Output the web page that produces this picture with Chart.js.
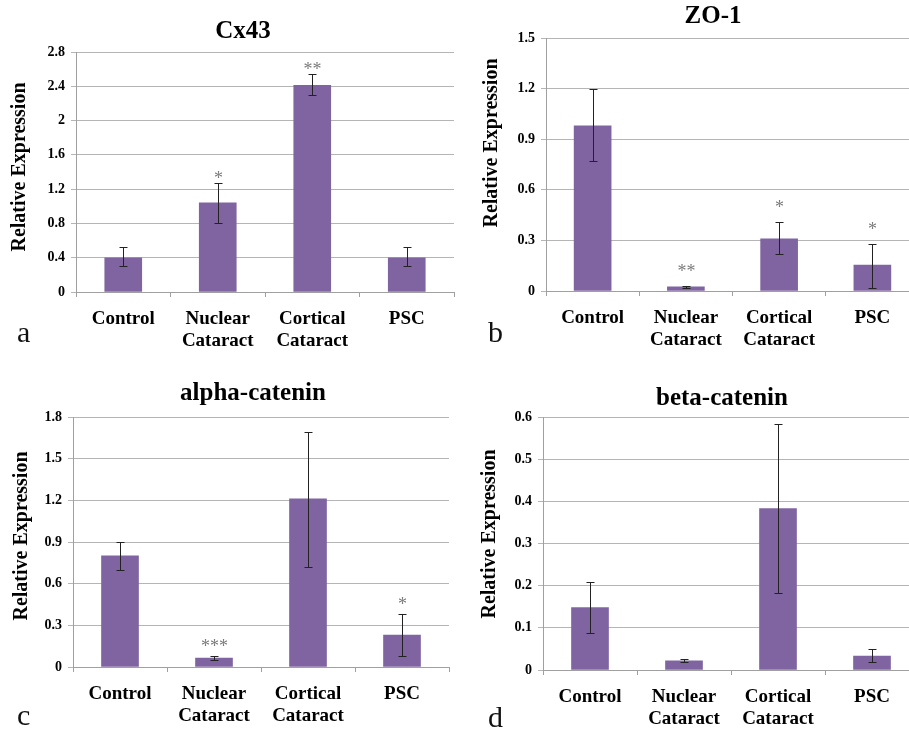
<!DOCTYPE html>
<html>
<head>
<meta charset="utf-8">
<script src="https://cdn.jsdelivr.net/npm/chart.js@4.4.0/dist/chart.umd.min.js"></script>
<style>
  html, body { margin: 0; padding: 0; background: #fff; overflow: hidden; }
  body { width: 909px; height: 730px; position: relative; font-family: "Liberation Serif", serif; }
  canvas, .letter { position: absolute; }
  .letter { font: 30px "Liberation Serif", "Times New Roman", serif; line-height: 30px; color: #111; }
</style>
</head>
<body>
<canvas id="cx43" width="455" height="365" style="left:0;top:0"></canvas>
<canvas id="zo1" width="465" height="365" style="left:455px;top:0"></canvas>
<canvas id="alpha" width="450" height="365" style="left:0;top:365px"></canvas>
<canvas id="beta" width="465" height="365" style="left:455px;top:365px"></canvas>
<div class="letter" style="left:17px;top:317px">a</div>
<div class="letter" style="left:488px;top:317px">b</div>
<div class="letter" style="left:17px;top:700px">c</div>
<div class="letter" style="left:488px;top:702px">d</div>
<script>
const categories = [['Control'], ['Nuclear', 'Cataract'], ['Cortical', 'Cataract'], ['PSC']];

// Cx43
const cx43Mean  = [0.40, 1.04, 2.41, 0.40];
const cx43Low   = [0.30, 0.81, 2.30, 0.30];
const cx43High  = [0.52, 1.27, 2.54, 0.52];
const cx43Stars = ['', '*', '**', ''];
const cx43Ticks = [0, 0.4, 0.8, 1.2, 1.6, 2, 2.4, 2.8];

// ZO-1
const zo1Mean  = [0.98, 0.024, 0.31, 0.153];
const zo1Low   = [0.77, 0.020, 0.22, 0.02];
const zo1High  = [1.20, 0.028, 0.41, 0.28];
const zo1Stars = ['', '**', '*', '*'];
const zo1Ticks = [0, 0.3, 0.6, 0.9, 1.2, 1.5];

// alpha-catenin
const alphaMean  = [0.80, 0.065, 1.21, 0.23];
const alphaLow   = [0.70, 0.05, 0.72, 0.08];
const alphaHigh  = [0.90, 0.08, 1.69, 0.385];
const alphaStars = ['', '***', '', '*'];
const alphaTicks = [0, 0.3, 0.6, 0.9, 1.2, 1.5, 1.8];

// beta-catenin
const betaMean  = [0.148, 0.022, 0.383, 0.033];
const betaLow   = [0.088, 0.019, 0.182, 0.019];
const betaHigh  = [0.208, 0.026, 0.583, 0.049];
const betaStars = ['', '', '', ''];
const betaTicks = [0, 0.1, 0.2, 0.3, 0.4, 0.5, 0.6];

const FONT = '"Liberation Serif", "Times New Roman", serif';
const BAR = '#8064a2';
const GRID = '#b5b5b5';
const AXIS = '#a0a0a0';

const panels = [
  { id: 'cx43', name: 'Cx43', mean: cx43Mean, low: cx43Low, high: cx43High, stars: cx43Stars, ticks: cx43Ticks,
    w: 455, h: 365, area: { left: 76, top: 52, right: 454, bottom: 292 },
    titleAt: [243, 32], yTitleAt: [20, 167], starGap: 8 },
  { id: 'zo1', name: 'ZO-1', mean: zo1Mean, low: zo1Low, high: zo1High, stars: zo1Stars, ticks: zo1Ticks,
    w: 465, h: 365, area: { left: 91, top: 38, right: 464, bottom: 291 },
    titleAt: [258, 17], yTitleAt: [37, 143], starGap: 18 },
  { id: 'alpha', name: 'alpha-catenin', mean: alphaMean, low: alphaLow, high: alphaHigh, stars: alphaStars, ticks: alphaTicks,
    w: 450, h: 365, area: { left: 73, top: 52, right: 449, bottom: 302 },
    titleAt: [253, 29], yTitleAt: [22, 171], starGap: 13 },
  { id: 'beta', name: 'beta-catenin', mean: betaMean, low: betaLow, high: betaHigh, stars: betaStars, ticks: betaTicks,
    w: 465, h: 365, area: { left: 88, top: 52, right: 464, bottom: 305 },
    titleAt: [267, 34], yTitleAt: [35, 169], starGap: 13 }
];

// error bars, significance stars, title and y-axis title for one panel
function makeDecor(p) {
  return {
    id: 'panelDecor',
    afterDatasetsDraw(chart) {
      const ctx = chart.ctx;
      const y = chart.scales.y;
      const bars = chart.getDatasetMeta(0).data;
      ctx.save();
      ctx.strokeStyle = '#222';
      ctx.lineWidth = 1;
      bars.forEach((bar, i) => {
        const x = Math.round(bar.x) + 0.5;
        const yHi = Math.round(y.getPixelForValue(p.high[i])) + 0.5;
        const yLo = Math.round(y.getPixelForValue(p.low[i])) + 0.5;
        ctx.beginPath();
        ctx.moveTo(x, yHi); ctx.lineTo(x, yLo);
        ctx.moveTo(x - 4, yHi); ctx.lineTo(x + 4, yHi);
        ctx.moveTo(x - 4, yLo); ctx.lineTo(x + 4, yLo);
        ctx.stroke();
        if (p.stars[i]) {
          ctx.font = '18px ' + FONT;
          ctx.fillStyle = '#7a7a7a';
          ctx.textAlign = 'center';
          ctx.textBaseline = 'alphabetic';
          ctx.fillText(p.stars[i], x, yHi - p.starGap + 8);
        }
      });

      ctx.fillStyle = '#000';
      ctx.textAlign = 'center';
      ctx.textBaseline = 'middle';
      ctx.font = 'bold 25px ' + FONT;
      ctx.fillText(p.name, p.titleAt[0], p.titleAt[1]);

      ctx.translate(p.yTitleAt[0], p.yTitleAt[1]);
      ctx.rotate(-Math.PI / 2);
      ctx.font = 'bold 20px ' + FONT;
      ctx.fillText('Relative Expression', 0, 0);
      ctx.restore();
    }
  };
}

panels.forEach(p => {
  const canvas = document.getElementById(p.id);
  new Chart(canvas.getContext('2d'), {
    type: 'bar',
    data: {
      labels: categories,
      datasets: [{
        data: p.mean,
        backgroundColor: BAR,
        borderWidth: 0,
        barThickness: 37
      }]
    },
    options: {
      responsive: false,
      animation: false,
      layout: { padding: { top: p.area.top, right: p.w - p.area.right, bottom: 0, left: 0 } },
      plugins: { legend: { display: false }, tooltip: { enabled: false } },
      scales: {
        x: {
          offset: true,
          grid: { drawOnChartArea: false, offset: true, tickLength: 5, color: AXIS },
          border: { color: AXIS },
          ticks: {
            color: '#000',
            padding: 11,
            maxRotation: 0,
            autoSkip: false,
            font: { family: FONT, size: 19, weight: 'bold', lineHeight: 1.17 }
          },
          afterFit: s => { s.height = p.h - p.area.bottom; }
        },
        y: {
          min: 0,
          max: p.ticks[p.ticks.length - 1],
          afterBuildTicks: s => { s.ticks = p.ticks.map(v => ({ value: v })); },
          grid: { color: GRID, tickLength: 5 },
          border: { color: AXIS },
          ticks: {
            color: '#000',
            padding: 6,
            callback: v => String(v),
            font: { family: FONT, size: 14, weight: 'bold' }
          },
          afterFit: s => { s.width = p.area.left; }
        }
      }
    },
    plugins: [makeDecor(p)]
  });
});
</script>
</body>
</html>
